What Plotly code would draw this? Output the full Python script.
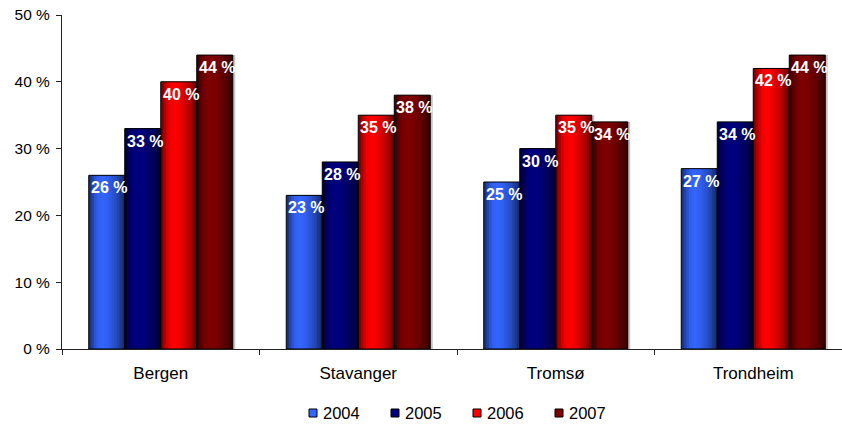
import plotly.graph_objects as go

# Share per city and year
cities = ["Bergen", "Stavanger", "Tromsø", "Trondheim"]
years = ["2004", "2005", "2006", "2007"]
share_2004 = [26, 23, 25, 27]
share_2005 = [33, 28, 30, 34]
share_2006 = [40, 35, 35, 42]
share_2007 = [44, 38, 34, 44]
series = [share_2004, share_2005, share_2006, share_2007]

y_ticks = [0, 10, 20, 30, 40, 50]

# Styling
base_rgb = [(51, 102, 255), (0, 0, 128), (255, 0, 0), (128, 0, 0)]
FONT = "Liberation Sans, Arial, Helvetica, sans-serif"
W, H = 842, 425
M_L, M_R, M_T, M_B = 62, 0, 15, 76
CAT_PX = 197.5          # pixel width of one category slot
BAR_PX = 36.0           # pixel width of one bar
BAR_W = BAR_PX / CAT_PX  # bar width in category units
N_SLICES = 14

# horizontal shading profile of a cylinder-like bar: (position, brightness)
profile = [(0.0, 0.42), (0.22, 0.92), (0.38, 1.0), (0.55, 0.93), (0.8, 0.7), (1.0, 0.38)]


def brightness(t):
    for (t0, v0), (t1, v1) in zip(profile[:-1], profile[1:]):
        if t0 <= t <= t1:
            return v0 + (v1 - v0) * (t - t0) / (t1 - t0)
    return profile[-1][1]


def shade(rgb, f):
    return "rgb({},{},{})".format(*[min(255, int(round(c * f))) for c in rgb])


fig = go.Figure()

# soft drop shadow behind every bar
for i, vals in enumerate(series):
    fig.add_trace(go.Bar(
        x=cities, y=vals, width=BAR_W, offset=(i - 2) * BAR_W + 2.5 / CAT_PX,
        marker=dict(color="rgba(150,150,150,0.55)", line=dict(width=0)),
        showlegend=False, hoverinfo="skip",
    ))

# shaded body of each bar, built from thin vertical strips
for i, vals in enumerate(series):
    left = (i - 2) * BAR_W
    step = BAR_W / N_SLICES
    for j in range(N_SLICES):
        t = (j + 0.5) / N_SLICES
        w = step * (1.6 if j < N_SLICES - 1 else 1.0)
        fig.add_trace(go.Bar(
            x=cities, y=vals, width=w, offset=left + j * step,
            marker=dict(color=shade(base_rgb[i], brightness(t)), line=dict(width=0)),
            showlegend=False, hoverinfo="skip",
        ))

# black outline of each bar
for i, vals in enumerate(series):
    fig.add_trace(go.Bar(
        x=cities, y=vals, width=BAR_W, offset=(i - 2) * BAR_W,
        marker=dict(color="rgba(0,0,0,0)", line=dict(color="black", width=1)),
        name=years[i], showlegend=False,
        hovertemplate="%{x} " + years[i] + ": %{y} %<extra></extra>",
    ))

# value labels at the top of each bar
annotations = []
for i, vals in enumerate(series):
    for c, v in zip(cities, vals):
        annotations.append(dict(
            x=c, y=v, xref="x", yref="y", text=f"<b>{v} %</b>",
            showarrow=False, xanchor="left", yanchor="top",
            xshift=(i - 2) * BAR_PX, yshift=-2,
            font=dict(family=FONT, size=16, color="white"),
        ))

# legend row below the plot: small square key followed by the year
plot_w = W - M_L - M_R
plot_h = H - M_T - M_B
LEG_X0, LEG_STEP, LEG_Y, KEY = 313, 82, 413, 8
shapes = []
for i, yr in enumerate(years):
    cx = LEG_X0 + i * LEG_STEP
    shapes.append(dict(
        type="rect", xref="paper", yref="paper",
        x0=(cx - KEY / 2 - M_L) / plot_w, x1=(cx + KEY / 2 - M_L) / plot_w,
        y0=(H - M_B - LEG_Y - KEY / 2) / plot_h, y1=(H - M_B - LEG_Y + KEY / 2) / plot_h,
        fillcolor=shade(base_rgb[i], 1.0), line=dict(color="black", width=1),
    ))
    annotations.append(dict(
        x=(cx + 8 - M_L) / plot_w, y=(H - M_B - LEG_Y) / plot_h,
        xref="paper", yref="paper", text=yr, showarrow=False,
        xanchor="left", yanchor="middle",
        font=dict(family=FONT, size=16.5, color="black"),
    ))

fig.update_layout(
    width=W, height=H,
    margin=dict(l=M_L, r=M_R, t=M_T, b=M_B),
    paper_bgcolor="white", plot_bgcolor="white",
    barmode="overlay",
    font=dict(family=FONT, size=15, color="black"),
    annotations=annotations, shapes=shapes,
    showlegend=False,
    xaxis=dict(
        type="category", range=[-0.5, 3.5 - 10 / CAT_PX],
        showline=True, linecolor="#222", linewidth=1,
        ticks="outside", tickson="boundaries", ticklen=5, tickcolor="#222",
        showgrid=False, tickfont=dict(size=17), ticklabelstandoff=9,
    ),
    yaxis=dict(
        range=[0, 50], tickvals=y_ticks, ticktext=[f"{v} %" for v in y_ticks],
        showline=True, linecolor="#222", linewidth=1,
        ticks="outside", ticklen=5, tickcolor="#222",
        showgrid=False, zeroline=False, tickfont=dict(size=15.5), ticklabelstandoff=3,
    ),
)

fig.write_html("out.html")
